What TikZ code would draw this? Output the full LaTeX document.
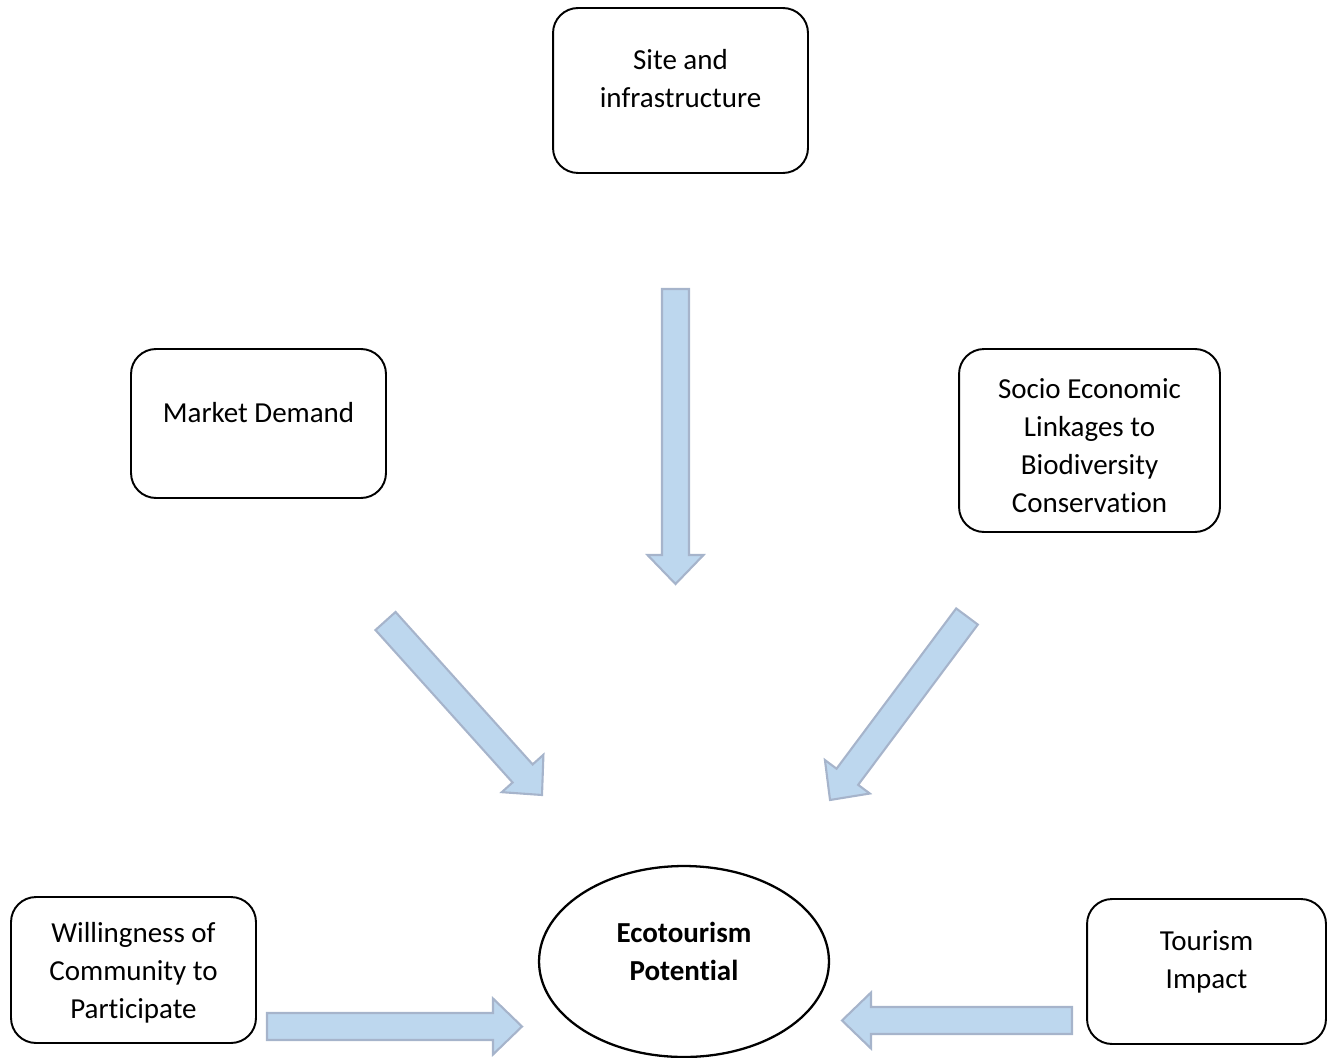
\documentclass[tikz,border=0pt]{standalone}
\usepackage{fontspec}
\setmainfont[Ligatures=NoCommon]{Carlito}
\usetikzlibrary{shapes.geometric,calc}

\definecolor{arrowfill}{RGB}{189,215,238}
\definecolor{arrowline}{RGB}{166,180,203}

\tikzset{
  factor/.style={draw, rounded corners=0.5cm, line width=1.1pt, inner sep=0pt},
  boxtext/.style={align=center, font=\fontsize{16.5}{21.6}\selectfont},
  blockarrow/.style={fill=arrowfill, draw=arrowline, line width=1.2pt, line join=miter}
}

% block arrow from tail #1 to tip #2
\newcommand{\blockarrow}[2]{%
  \coordinate (hb) at ($(#2)!0.58cm!(#1)$);
  \draw[blockarrow] ($(#1)!0.27cm!90:(#2)$) -- ($(hb)!0.27cm!90:(#2)$)
    -- ($(hb)!0.56cm!90:(#2)$) -- (#2) -- ($(hb)!0.56cm!-90:(#2)$)
    -- ($(hb)!0.27cm!-90:(#2)$) -- ($(#1)!0.27cm!-90:(#2)$) -- cycle;
}

\begin{document}
\begin{tikzpicture}[x=0.02cm, y=-0.02cm]

\useasboundingbox (0,0) rectangle (1337,1057);

% Factors (rounded boxes)
\node[factor, minimum width=5.1cm, minimum height=3.3cm,
  label={[boxtext, name=sitetext, yshift=0.23cm]center:Site and\\infrastructure}]
  (site) at (680.5,90.5) {};
\node[factor, minimum width=5.1cm, minimum height=2.98cm,
  label={[boxtext, name=markettext, yshift=0.21cm]center:Market Demand}]
  (market) at (258.5,423.5) {};
\node[factor, minimum width=5.22cm, minimum height=3.66cm,
  label={[boxtext, name=sociotext, yshift=-0.1cm]center:Socio Economic\\Linkages to\\Biodiversity\\Conservation}]
  (socio) at (1089.5,440.5) {};
\node[factor, minimum width=4.9cm, minimum height=2.92cm,
  label={[boxtext, name=willtext, yshift=-0.05cm]center:Willingness of\\Community to\\Participate}]
  (will) at (133.5,970) {};
\node[factor, minimum width=4.78cm, minimum height=2.9cm,
  label={[boxtext, name=tourtext, yshift=0.2cm]center:Tourism\\Impact}]
  (tour) at (1206.5,971.5) {};

% Central ellipse
\node[draw, ellipse, line width=1.3pt, minimum width=5.8cm, minimum height=3.82cm, inner sep=0pt,
  label={[boxtext, name=ecotext, yshift=0.21cm, font=\fontsize{16.5}{21.6}\selectfont\bfseries]center:Ecotourism\\Potential}]
  (eco) at (684,961.5) {};

% Arrow ends
\coordinate (siteA) at (675.5,289);   \coordinate (siteB) at (675.5,584);
\coordinate (marketA) at (385.5,621); \coordinate (marketB) at (542,795);
\coordinate (socioA) at (967,616.5);  \coordinate (socioB) at (830,800);
\coordinate (willA) at (267,1026.5);  \coordinate (willB) at (522,1026.5);
\coordinate (tourA) at (1072,1020.5); \coordinate (tourB) at (842,1020.5);

% Block arrows
\foreach \a/\b in {siteA/siteB, marketA/marketB, socioA/socioB, willA/willB, tourA/tourB} {
    \blockarrow{\a}{\b}
}

\end{tikzpicture}
\end{document}
